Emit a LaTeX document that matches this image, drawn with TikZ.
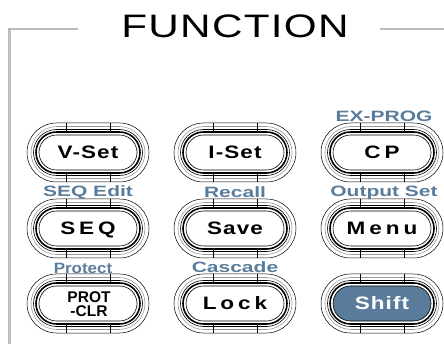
\documentclass[tikz,border=0pt]{standalone}
\usepackage{fontspec}
\setmainfont{Liberation Sans}
\newfontfamily\keyfont[FakeStretch=1.25, LetterSpace=6]{Liberation Sans}
\newfontfamily\widekeyfont[FakeStretch=1.25, LetterSpace=22]{Liberation Sans}
\newfontfamily\subfont[FakeStretch=1.4]{Liberation Sans}
\newfontfamily\narrowsubfont[FakeStretch=1.13]{Liberation Sans}
\newfontfamily\titlefont[FakeStretch=1.3, LetterSpace=4]{Liberation Sans}
\usetikzlibrary{positioning}
\definecolor{FrameGray}{HTML}{BDBDBD}
\definecolor{RingGray}{HTML}{9A9A9A}
\definecolor{KeyBlue}{HTML}{5A7C9B}

\tikzset{
  keyfill/.style={fill=white},
  pics/keyring/.style={code={
    \draw[line width=0.5pt, rounded corners=29.5pt] (-61,-29.5) rectangle (61,29.5);
    \draw[RingGray, line width=0.6pt, rounded corners=26pt] (-57,-26) rectangle (57,26);
    \draw[line width=0.6pt, rounded corners=23pt] (-54.5,-23) rectangle (54.5,23);
    \draw[line width=1.6pt, rounded corners=20.5pt] (-52,-20.5) rectangle (52,20.5);
    \draw[line width=0.6pt, keyfill, rounded corners=17.5pt] (-49,-17.5) rectangle (49,17.5);
    % joints top and bottom
    \draw[line width=0.5pt] (-22,-29.5) -- (-22,-20.5) (22,-29.5) -- (22,-20.5);
    \draw[line width=0.5pt] (-22,20.5) -- (-22,29.5) (22,20.5) -- (22,29.5);
  }},
  keytext/.style={font=\keyfont\bfseries\fontsize{18}{18}\selectfont,
    text height=12.9pt, text depth=0pt, inner sep=0pt},
  widekey/.style={keytext, font=\widekeyfont\bfseries\fontsize{18}{18}\selectfont},
  sublabel/.style={font=\subfont\bfseries\fontsize{15}{15}\selectfont,
    text=KeyBlue, anchor=base, inner sep=0pt},
}

\begin{document}
\begin{tikzpicture}[x=1pt, y=-1pt]
    \useasboundingbox (0,0) rectangle (444,344);

    % Frame and title
    \node[font=\titlefont\fontsize{32.5}{32.5}\selectfont, anchor=base, inner sep=0pt]
        (title) at (235,38) {FUNCTION};
    \draw[FrameGray, line width=2.5pt] (78,29) -- (9.5,29) -- (9.5,344);
    \draw[FrameGray, line width=2.5pt] (380,29) -- (444,29);

    % Row 1
    \pic at (88,152.5) {keyring};
    \node[keytext] (vset) at (88,152) {V-Set};
    \pic at (235,152.5) {keyring};
    \node[keytext] (iset) at (235,152) {I-Set};
    \pic at (382,152.5) {keyring};
    \node[widekey] (cp) at (382,152) {CP};
    \node[sublabel] (exprog) at (384,121.5) {EX-PROG};

    % Row 2
    \pic at (88,228.5) {keyring};
    \node[widekey] (seq) at (88,228) {SEQ};
    \pic at (235,228.5) {keyring};
    \node[keytext] (save) at (235,228) {Save};
    \pic at (382,228.5) {keyring};
    \node[widekey] (menu) at (382,228) {Menu};
    \node[sublabel] (seqedit) at (88,197) {SEQ Edit};
    \node[sublabel] (recall) at (235,197.5) {Recall};
    \node[sublabel] (outset) at (384,197) {Output Set};

    % Row 3
    \pic at (88,303.5) {keyring};
    \node[font=\bfseries\fontsize{15.5}{14}\selectfont, align=center, inner sep=0pt]
        (prot) at (89,304.5) {PROT\\-CLR};
    \pic at (235,303.5) {keyring};
    \node[widekey] (lock) at (235,303.5) {Lock};
    \pic[keyfill/.style={fill=KeyBlue}] at (382,303.5) {keyring};
    \node[keytext, text=white] (shift) at (382,303.5) {Shift};
    \node[sublabel, font=\narrowsubfont\bfseries\fontsize{15}{15}\selectfont]
        (protect) at (83,274) {Protect};
    \node[sublabel] (cascade) at (235,273) {Cascade};
\end{tikzpicture}
\end{document}
